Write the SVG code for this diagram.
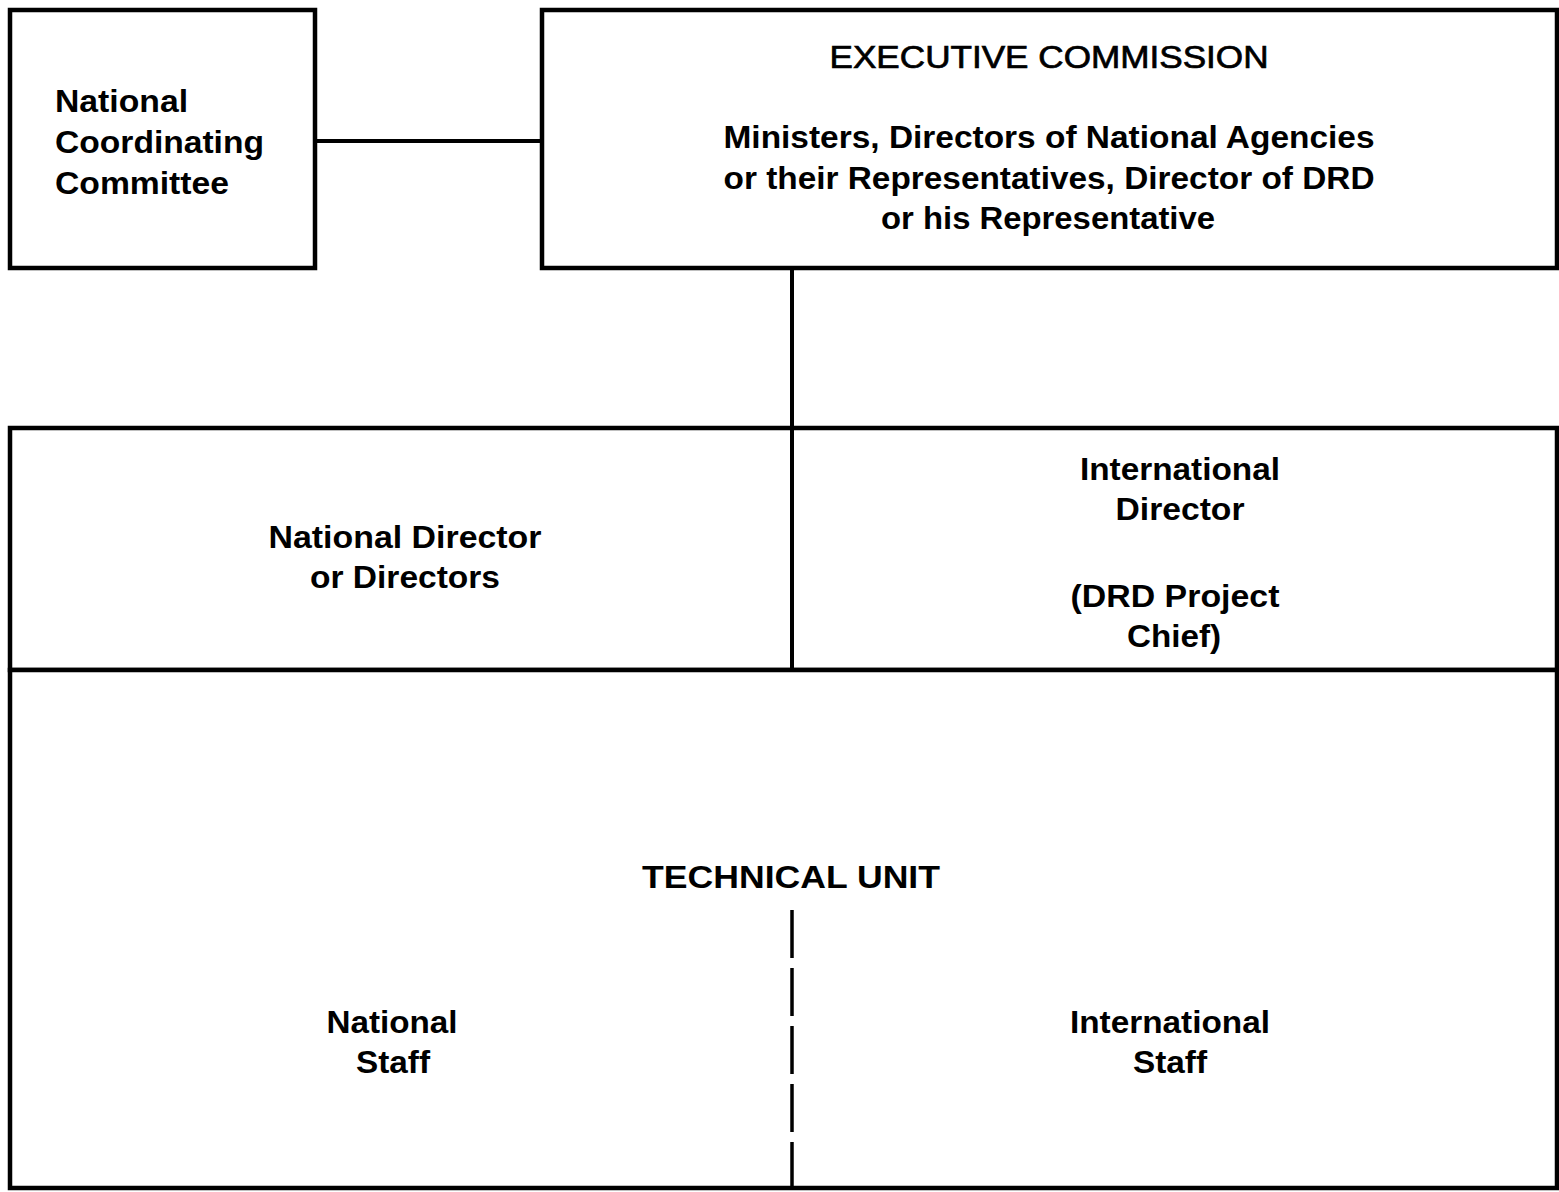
<svg xmlns="http://www.w3.org/2000/svg" width="1559" height="1192" viewBox="0 0 1559 1192">
  <style>
    .box { fill: #ffffff; stroke: #000000; stroke-width: 4.5; }
    .line { stroke: #000000; stroke-width: 4; fill: none; }
    .dash { stroke: #000000; stroke-width: 3.5; fill: none; stroke-dasharray: 48 10; }
    .t { font-family: "Liberation Sans", Arial, Helvetica, sans-serif; font-size: 32px; font-weight: bold; fill: #000000; }
    .reg { font-weight: normal; stroke: #000000; stroke-width: 0.7; }
    .c { text-anchor: middle; }
  </style>
  <rect x="0" y="0" width="1559" height="1192" fill="#ffffff"/>

  <!-- National Coordinating Committee -->
  <g id="ncc">
    <rect class="box" x="10" y="10" width="305" height="258"/>
    <text class="t" x="55" y="112" textLength="133" lengthAdjust="spacingAndGlyphs">National</text>
    <text class="t" x="55" y="153" textLength="209" lengthAdjust="spacingAndGlyphs">Coordinating</text>
    <text class="t" x="55" y="194" textLength="174" lengthAdjust="spacingAndGlyphs">Committee</text>
  </g>

  <!-- Executive Commission -->
  <g id="executive-commission">
    <rect class="box" x="542" y="10" width="1015" height="258"/>
    <text class="t reg c" x="1049" y="68" textLength="439" lengthAdjust="spacingAndGlyphs">EXECUTIVE COMMISSION</text>
    <text class="t c" x="1049" y="148" textLength="651" lengthAdjust="spacingAndGlyphs">Ministers, Directors of National Agencies</text>
    <text class="t c" x="1049" y="189" textLength="651" lengthAdjust="spacingAndGlyphs">or their Representatives, Director of DRD</text>
    <text class="t c" x="1048" y="229" textLength="334" lengthAdjust="spacingAndGlyphs">or his Representative</text>
  </g>

  <!-- Directors row: national / international -->
  <g id="directors">
    <rect class="box" x="10" y="428" width="1547" height="242"/>
    <line class="line" x1="792" y1="428" x2="792" y2="670"/>
    <text class="t c" x="405" y="548" textLength="273" lengthAdjust="spacingAndGlyphs">National Director</text>
    <text class="t c" x="405" y="588" textLength="190" lengthAdjust="spacingAndGlyphs">or Directors</text>
    <text class="t c" x="1180" y="480" textLength="200" lengthAdjust="spacingAndGlyphs">International</text>
    <text class="t c" x="1180" y="520" textLength="129" lengthAdjust="spacingAndGlyphs">Director</text>
    <text class="t c" x="1175" y="607" textLength="209" lengthAdjust="spacingAndGlyphs">(DRD Project</text>
    <text class="t c" x="1174" y="647" textLength="94" lengthAdjust="spacingAndGlyphs">Chief)</text>
  </g>

  <!-- Technical unit with national / international staff -->
  <g id="technical-unit">
    <rect class="box" x="10" y="670" width="1547" height="518"/>
    <line class="dash" x1="792" y1="910" x2="792" y2="1188"/>
    <text class="t c" x="791" y="888" textLength="298" lengthAdjust="spacingAndGlyphs">TECHNICAL UNIT</text>
    <text class="t c" x="392" y="1033" textLength="131" lengthAdjust="spacingAndGlyphs">National</text>
    <text class="t c" x="393" y="1073" textLength="74" lengthAdjust="spacingAndGlyphs">Staff</text>
    <text class="t c" x="1170" y="1033" textLength="200" lengthAdjust="spacingAndGlyphs">International</text>
    <text class="t c" x="1170" y="1073" textLength="74" lengthAdjust="spacingAndGlyphs">Staff</text>
  </g>

  <!-- Connectors -->
  <g id="connectors">
    <line class="line" x1="315" y1="141" x2="542" y2="141" stroke-width="3.5"/>
    <line class="line" x1="792" y1="268" x2="792" y2="428"/>
  </g>
</svg>
